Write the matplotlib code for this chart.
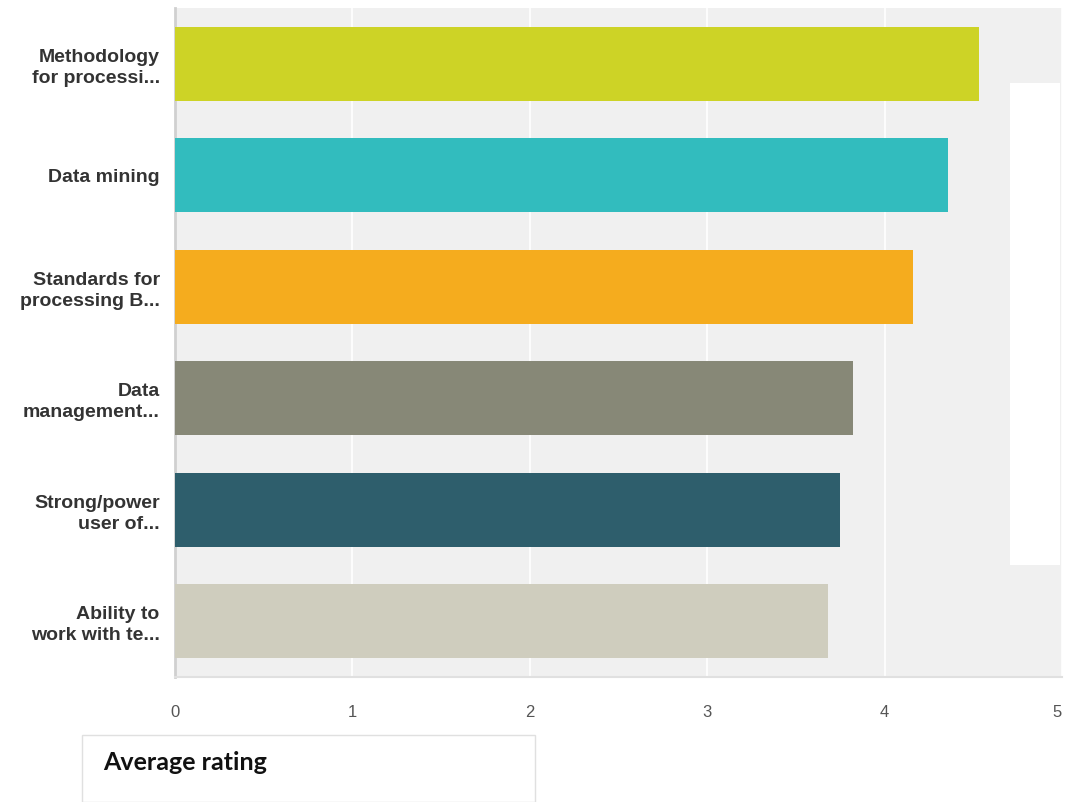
import matplotlib.pyplot as plt
import matplotlib.patches as patches

labels = ["Methodology\nfor processi...", "Data mining", "Standards for\nprocessing B...",
          "Data\nmanagement...", "Strong/power\nuser of...", "Ability to\nwork with te..."]
ratings = [4.53, 4.36, 4.16, 3.82, 3.75, 3.68]
colors = ["#cdd326", "#32bcbe", "#f5ac1e", "#878877", "#2e5e6c", "#cfcdbe"]
xticks = [0, 1, 2, 3, 4, 5]

fig = plt.figure(figsize=(10.65, 8.02), dpi=100)
ax = fig.add_axes([175/1065, 1-677/802, 887/1065, 669/802])
ax.set_facecolor("#f0f0f0")

ypos = list(range(len(labels)))
ax.barh(ypos, ratings, height=0.66, color=colors, zorder=3)
ax.set_ylim(len(labels)-0.5, -0.5)
ax.set_xlim(0, 5)
ax.set_yticks(ypos)
ax.set_yticklabels(labels, fontsize=14, fontweight="bold", color="#333333",
                   family="Liberation Sans", linespacing=1.3)
ax.set_xticks(xticks)
ax.set_xticklabels([str(v) for v in xticks], fontsize=12, color="#555555",
                   family="Liberation Sans")
ax.tick_params(axis="both", length=0)
ax.tick_params(axis="y", pad=11)
ax.tick_params(axis="x", pad=20)
ax.grid(axis="x", color="white", linewidth=1.2, zorder=1)
for s in ["top", "right"]:
    ax.spines[s].set_visible(False)
ax.spines["left"].set_color("#d0d0d0")
ax.spines["left"].set_linewidth(2)
ax.spines["bottom"].set_color("#e0e0e0")
ax.spines["bottom"].set_linewidth(1.5)

# shift the last tick label left so it stays inside the picture
ax.get_xticklabels()[-1].set_horizontalalignment("right")

# white strip at right side of the plot
ax.add_patch(patches.Rectangle((1010/1065, 1-565/802), 50/1065, 482/802,
                               transform=fig.transFigure, facecolor="white",
                               edgecolor="none", zorder=5))

# legend-like box at bottom
fig.patches.append(patches.Rectangle((82/1065, 0), 453/1065, 67/802,
                                     transform=fig.transFigure, facecolor="white",
                                     edgecolor="#e0e0e0", linewidth=1))
fig.text(103/1065, 1-763/802, "Average rating", fontsize=18, fontweight="bold",
         family="Lato", color="#111111", va="center")

fig.savefig("out.png", dpi=100)
